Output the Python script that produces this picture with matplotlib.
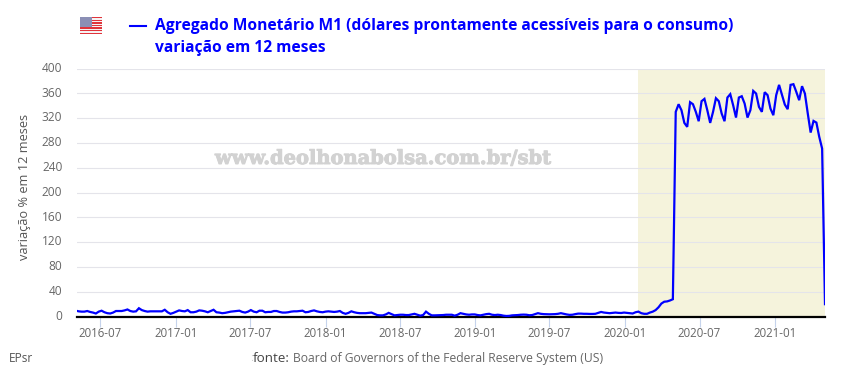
import matplotlib
matplotlib.use("Agg")
import matplotlib.pyplot as plt
import matplotlib.patheffects as pe
from matplotlib.patches import Rectangle
from matplotlib.transforms import ScaledTranslation
import pandas as pd

plt.rcParams['font.family'] = ['Open Sans', 'DejaVu Sans']

m1_2016_17 = [9.6,8.5,8,8,9,7.5,6.5,5,8,9.5,7,5.5,5,6.5,9,9,9,10,11.5,9,8,8.5,13.5,10.5,9,8,8.5,8.5,8.5,8.5,8.5,11,7,4.5,6,8,
              10,9,8.5,10.5,7,7,8,10,9.5,8.5,7,9,11,7,6.5,5.5,6,7,8,8.5,9,9.5,7.5,6.5,8,10.5,8,7]
m1_2017_18 = [9.5,9.5,7,7.5,7.5,9,9,7.5,6.5,6.5,7,8,8.5,8.5,9,9.5,7,7.5,9,10,8.5,7.5,7,8,8.5,8,7.5,8,9,6,4.5,6,8.5,7,6,5.5,
              5.5,5.5,6,6.5,4.5,2.5,2,2,3.5,6,4,2,2.5,3,3,2.5,2.5,3.5,4.5,3,1.5,2.5,8,4.5,2,2,2.2,2.3]
m1_2019_20 = [2.5,3,3,3,1.5,3,5.5,4.5,3.5,3,3.5,3.5,2.5,2,3,4,4.5,3,2.5,3,2.5,1.5,1,1.2,2,2.2,2.5,3,3.2,3,2.2,2.5,4,5.5,4.5,4,
              3.8,3.7,3.8,4,4.5,5.5,4.5,3.5,2.8,3,4,4.8,4.8,4.5,4.5,4.3,4.3,4.5,6,7.5,6.5,6,5.5,6,6.5,6,5.8,6.5,6,5.5,5,7,8,
              5.5,4.5,4.5,6.5,8,10.5,15,21,24,24.5,26,28]
m1_2020_21 = [330.1,342.4,332.7,312.3,305.9,345.7,342.4,330.1,315,347.3,351,332.7,312.3,330.1,352.1,347.3,327.4,315,353.2,358.6,
              340.8,320.9,353.2,355.3,343.5,320.9,332.7,363.9,359.6,338.1,330.1,361.8,357,335.4,324.7,357,373.6,358,341.9,334.4,
              373.6,374.7,362.3,348.9,371.5,359.6,327.4,296.7,315.5,312.8,289.7,270.9,20]
values = m1_2016_17 + m1_2017_18 + m1_2019_20 + m1_2020_21
dates = pd.date_range(end="2021-05-03", periods=len(values), freq="7D")

y_ticks = list(range(0, 401, 40))
x_ticks = ["2016-07","2017-01","2017-07","2018-01","2018-07","2019-01","2019-07","2020-01","2020-07","2021-01"]
highlight = ("2020-02-03", "2021-05-03")
title_1 = "Agregado Monetário M1 (dólares prontamente acessíveis para o consumo)"
title_2 = "variação em 12 meses"
ylabel = "variação % em 12 meses"
watermark = "www.deolhonabolsa.com.br/sbt"
source = "Board of Governors of the Federal Reserve System (US)"

W, H = 850, 370
fig = plt.figure(figsize=(W/100, H/100), dpi=100, facecolor="white")
def fx(x): return x / W
def fy(y): return 1 - y / H

ax = fig.add_axes([fx(77), fy(316.6), (825-77)/W, (316.6-68.5)/H])
ax.set_facecolor("white")
ax.axvspan(pd.Timestamp(highlight[0]), pd.Timestamp(highlight[1]), color="#F5F3DC", lw=0, zorder=0)
ax.yaxis.grid(True, color="#e4e4ea", lw=0.8, zorder=1)
ax.set_axisbelow(True)
ax.plot(dates, values, color="#0000ff", lw=1.6, zorder=3, solid_joinstyle="miter")
ax.set_xlim(pd.Timestamp("2016-05-05"), pd.Timestamp("2021-05-03"))
ax.set_ylim(0, 400)
ax.set_yticks(y_ticks)
ax.set_xticks([pd.Timestamp(t + "-01") for t in x_ticks])
ax.set_xticklabels(x_ticks)
ax.tick_params(axis="y", length=0, pad=10.5, labelsize=8.6, labelcolor="#666666")
ax.tick_params(axis="x", length=7.2, width=0.8, color="#c5d3ec", pad=0.5, labelsize=8.3, labelcolor="#666666")
up = ScaledTranslation(0, 1.7/100, fig.dpi_scale_trans)
for lab in ax.get_yticklabels():
    lab.set_transform(lab.get_transform() + up)
for s in ("top", "left", "right"):
    ax.spines[s].set_visible(False)
ax.spines["bottom"].set_color("black")
ax.spines["bottom"].set_linewidth(1.6)

fig.text(fx(24.5), fy(186.5), ylabel, rotation=90, ha="center", va="center", fontsize=9.2, color="#555555")
fig.text(fx(383.5), fy(159), watermark, ha="center", va="center", fontsize=14, color="#d2d2d2",
         family=["DejaVu Serif"], fontweight="bold",
         path_effects=[pe.withStroke(linewidth=0.7, foreground="#d2d2d2")])

# legend and title
fig.add_artist(plt.Line2D([fx(130), fx(146)], [fy(25.5), fy(25.5)], color="#0000ff", lw=1.5))
fig.text(fx(155), fy(25.5), title_1, ha="left", va="center", fontsize=11.26, fontweight="bold", color="#0000ff")
fig.text(fx(155), fy(47.5), title_2, ha="left", va="center", fontsize=11.26, fontweight="bold", color="#0000ff")

# flag
flag = fig.add_axes([fx(80), fy(34), 22/W, 17/H])
flag.set_xlim(0, 1); flag.set_ylim(0, 13); flag.axis("off")
for i in range(13):
    flag.add_patch(Rectangle((0, i), 1, 1, color="#e0343c" if i % 2 == 0 else "#f6f2f2", lw=0))
flag.add_patch(Rectangle((0, 5.5), 0.55, 7.5, color="#8b8fb5", lw=0))

# footer
fig.text(fx(9), fy(358.5), "EPsr", ha="left", va="center", fontsize=8.6, color="#555555")
fig.text(fx(253), fy(358.5), "fonte:", ha="left", va="center", fontsize=9.6, color="#444444")
fig.text(fx(250.5), fy(358.5), ":", ha="left", va="center", fontsize=8, color="#cccccc")
fig.text(fx(293), fy(358.5), source, ha="left", va="center", fontsize=8.7, color="#666666")

fig.savefig("out.png", dpi=100)
